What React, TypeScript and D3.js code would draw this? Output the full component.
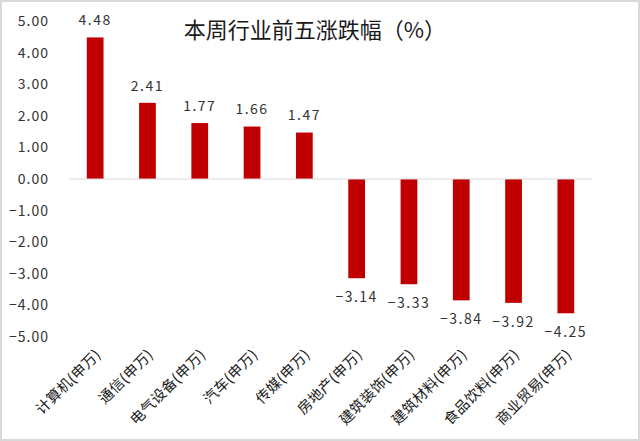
import React from "react";
import * as d3 from "d3";

const categories = [
  "计算机(申万)",
  "通信(申万)",
  "电气设备(申万)",
  "汽车(申万)",
  "传媒(申万)",
  "房地产(申万)",
  "建筑装饰(申万)",
  "建筑材料(申万)",
  "食品饮料(申万)",
  "商业贸易(申万)",
];
const changes = [4.48, 2.41, 1.77, 1.66, 1.47, -3.14, -3.33, -3.84, -3.92, -4.25];
const yTicks = [5, 4, 3, 2, 1, 0, -1, -2, -3, -4, -5];

const W = 640;
const H = 441;
const font = "'Noto Sans CJK SC', 'Noto Sans', sans-serif";

const App = () => {
  // plot area
  const left = 69;
  const right = 592;
  const x = d3.scaleBand().domain(categories).range([left, right]).paddingInner(0.68).paddingOuter(0.34);
  const y = d3.scaleLinear().domain([-5, 5]).range([337, 21]);
  const fmt = d3.format(".2f");

  return (
    <div style={{ position: "fixed", left: 0, top: 0 }}>
      <svg width={W} height={H} style={{ display: "block" }}>
        <rect x={0} y={0} width={W} height={H} fill="#fff" />
        <rect x={1} y={1} width={W - 2} height={H - 2} fill="none" stroke="#d9d9d9" strokeWidth={2} />

        <text x={315} y={38} textAnchor="middle" fontFamily={font} fontSize={22} fill="#1a1a1a">
          本周行业前五涨跌幅（%）
        </text>

        {/* y axis labels */}
        <g>
          {yTicks.map((t) => (
            <text
              key={t}
              x={49}
              y={y(t)}
              dy="0.35em"
              textAnchor="end"
              fontFamily={font}
              fontSize={14}
              letterSpacing={1}
              fill="#333"
            >
              {t < 0 ? "−" + fmt(-t) : fmt(t)}
            </text>
          ))}
        </g>

        {/* bars */}
        <g>
          {changes.map((v, i) => (
            <rect
              key={i}
              x={x(categories[i])}
              y={y(Math.max(0, v))}
              width={x.bandwidth()}
              height={Math.abs(y(v) - y(0))}
              fill="#c00000"
            />
          ))}
        </g>

        {/* zero line */}
        <line x1={left} x2={right} y1={y(0)} y2={y(0)} stroke="#d9d9d9" strokeWidth={1} />

        {/* value labels */}
        <g>
          {changes.map((v, i) => (
            <text
              key={i}
              x={(x(categories[i]) as number) + x.bandwidth() / 2}
              y={v >= 0 ? y(v) - 17 : y(v) + 19}
              dy="0.35em"
              textAnchor="middle"
              fontFamily={font}
              fontSize={14}
              letterSpacing={1.5}
              fill="#333"
            >
              {v < 0 ? "−" + fmt(-v) : fmt(v)}
            </text>
          ))}
        </g>

        {/* category labels */}
        <g>
          {categories.map((c) => {
            const cx = (x(c) as number) + x.bandwidth() / 2 + 3;
            const cy = 352;
            return (
              <text
                key={c}
                transform={`translate(${cx},${cy}) rotate(-45)`}
                textAnchor="end"
                dy="0.35em"
                fontFamily={font}
                fontSize={14.5}
                letterSpacing={0.3}
                fill="#1a1a1a"
              >
                {c}
              </text>
            );
          })}
        </g>
      </svg>
    </div>
  );
};

export default App;
